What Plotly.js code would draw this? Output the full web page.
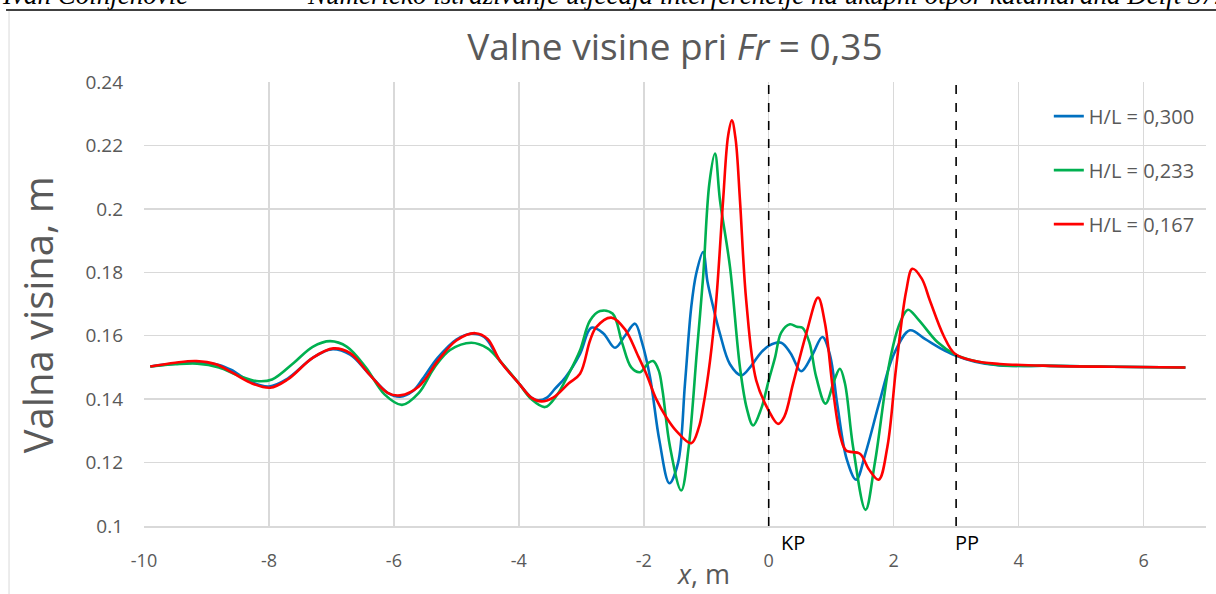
<!DOCTYPE html>
<html>
<head>
<meta charset="utf-8">
<script src="https://cdn.plot.ly/plotly-3.0.1.min.js"></script>
<style>html,body{margin:0;padding:0;background:#fff;}#chart{width:1216px;height:594px;}</style>
</head>
<body>
<div id="chart"></div>
<script>
// ---- data ----
const seriesNames = ['H/L = 0,300', 'H/L = 0,233', 'H/L = 0,167'];

const x300 = [-9.9,-9.5,-9.15,-8.8,-8.6,-8.3,-8.0,-7.7,-7.3,-7.0,-6.7,-6.4,-6.1,-5.9,-5.7,-5.54,-5.3,-5.0,-4.76,-4.55,-4.3,-4.0,-3.8,-3.69,-3.55,-3.42,-3.25,-3.02,-2.84,-2.65,-2.46,-2.3,-2.14,-2.03,-1.9,-1.75,-1.59,-1.45,-1.34,-1.24,-1.16,-1.05,-0.98,-0.9,-0.78,-0.62,-0.44,-0.28,-0.14,0.0,0.2,0.35,0.52,0.7,0.86,0.98,1.1,1.25,1.4,1.55,1.78,2.0,2.26,2.5,2.75,2.98,3.3,3.7,4.5,5.5,6.67];
const y300 = [0.1503,0.1512,0.1515,0.1508,0.1492,0.1455,0.1440,0.1465,0.1530,0.1557,0.1540,0.1480,0.1420,0.1408,0.1425,0.1464,0.1530,0.1588,0.1606,0.1595,0.1520,0.1450,0.1405,0.1396,0.1405,0.1433,0.1470,0.1543,0.1625,0.1608,0.1562,0.1600,0.1638,0.1580,0.1470,0.1270,0.1135,0.1200,0.1450,0.1690,0.1796,0.1864,0.1770,0.1700,0.1606,0.1510,0.1475,0.1505,0.1543,0.1568,0.1578,0.1545,0.1488,0.1540,0.1596,0.1540,0.1380,0.1210,0.1146,0.1230,0.1396,0.1540,0.1617,0.1590,0.1560,0.1538,0.1518,0.1506,0.1505,0.1502,0.1500];

const x233 = [-9.9,-9.5,-9.15,-8.8,-8.5,-8.2,-7.95,-7.6,-7.3,-7.02,-6.75,-6.45,-6.15,-5.87,-5.6,-5.35,-5.1,-4.76,-4.5,-4.3,-4.0,-3.8,-3.58,-3.4,-3.2,-3.02,-2.86,-2.7,-2.5,-2.35,-2.2,-2.06,-1.92,-1.85,-1.76,-1.7,-1.58,-1.4,-1.28,-1.15,-1.05,-0.95,-0.86,-0.78,-0.62,-0.46,-0.35,-0.25,-0.12,0.0,0.1,0.2,0.34,0.45,0.54,0.65,0.76,0.91,1.05,1.14,1.22,1.35,1.55,1.7,1.94,2.1,2.23,2.4,2.7,2.98,3.3,3.7,4.5,5.5,6.67];
const y233 = [0.1503,0.1510,0.1512,0.1500,0.1475,0.1457,0.1462,0.1515,0.1565,0.1583,0.1565,0.1500,0.1415,0.1382,0.1420,0.1500,0.1555,0.1578,0.1560,0.1520,0.1450,0.1400,0.1375,0.1410,0.1480,0.1554,0.1648,0.1678,0.1670,0.1580,0.1500,0.1485,0.1515,0.1520,0.1490,0.1427,0.1250,0.1112,0.1250,0.1550,0.1785,0.2080,0.2174,0.2027,0.1817,0.1500,0.1370,0.1317,0.1370,0.1459,0.1530,0.1610,0.1636,0.1628,0.1625,0.1580,0.1470,0.1386,0.1460,0.1496,0.1450,0.1250,0.1051,0.1200,0.1522,0.1640,0.1682,0.1650,0.1580,0.1541,0.1520,0.1507,0.1505,0.1502,0.1500];

const x167 = [-9.9,-9.5,-9.16,-8.85,-8.6,-8.3,-7.98,-7.7,-7.3,-6.97,-6.7,-6.4,-6.1,-5.9,-5.6,-5.3,-5.0,-4.7,-4.5,-4.3,-4.0,-3.8,-3.64,-3.45,-3.2,-3.02,-2.86,-2.76,-2.52,-2.3,-2.1,-1.96,-1.8,-1.64,-1.48,-1.24,-1.12,-1.05,-0.94,-0.84,-0.73,-0.65,-0.59,-0.53,-0.46,-0.36,-0.2,0.0,0.15,0.25,0.39,0.6,0.79,0.9,1.03,1.15,1.24,1.46,1.6,1.76,1.9,2.04,2.2,2.3,2.45,2.58,2.8,2.98,3.3,3.7,4.5,5.5,6.67];
const y167 = [0.1503,0.1515,0.1520,0.1510,0.1485,0.1452,0.1436,0.1462,0.1530,0.1560,0.1545,0.1480,0.1420,0.1412,0.1440,0.1520,0.1585,0.1608,0.1590,0.1520,0.1450,0.1405,0.1393,0.1405,0.1450,0.1480,0.1585,0.1627,0.1657,0.1620,0.1540,0.1480,0.1400,0.1343,0.1300,0.1261,0.1310,0.1375,0.1520,0.1711,0.2027,0.2230,0.2279,0.2220,0.2027,0.1711,0.1459,0.1364,0.1322,0.1345,0.1449,0.1606,0.1720,0.1640,0.1427,0.1280,0.1238,0.1228,0.1180,0.1146,0.1250,0.1500,0.1740,0.1811,0.1780,0.1711,0.1600,0.1543,0.1520,0.1511,0.1505,0.1502,0.1500];

const xTickVals = [-10,-8,-6,-4,-2,0,2,4,6];
const xTickText = ['-10','-8','-6','-4','-2','0','2','4','6'];
const yTickVals = [0.1,0.12,0.14,0.16,0.18,0.2,0.22,0.24];
const yTickText = ['0.1','0.12','0.14','0.16','0.18','0.2','0.22','0.24'];

const markerX = [0, 3];
const markerLabels = ['KP', 'PP'];

// ---- styles ----
const colors = ['#0070C0', '#00B050', '#FF0000'];
const markerShift = [10, -3];
const gray = '#595959';
const font = 'Open Sans, Noto Sans, sans-serif';

const xs = [x300, x233, x167];
const ys = [y300, y233, y167];
const traces = xs.map((x, i) => ({
  x: x, y: ys[i], type: 'scatter', mode: 'lines', name: seriesNames[i],
  legendgroup: 'g' + i,
  line: {color: colors[i], width: 2.6, shape: 'spline', smoothing: 1}
}));

const shapes = markerX.map(v => ({
  type: 'line', xref: 'x', yref: 'paper', x0: v, x1: v, y0: 0, y1: 1,
  line: {color: '#000', width: 1.6, dash: 'dash'}
}));
// page header rule and chart border
shapes.push({type: 'line', xref: 'paper', yref: 'paper', x0: -0.1299, x1: 1.02, y0: 1.1622, y1: 1.1622, line: {color: '#000', width: 1.5}});
shapes.push({type: 'line', xref: 'paper', yref: 'paper', x0: -0.1271, x1: -0.1271, y0: 1.16, y1: -0.16, line: {color: '#d9d9d9', width: 1}});

const annotations = markerX.map((v, i) => ({
  x: v, xref: 'x', y: 0, yref: 'paper', text: markerLabels[i], showarrow: false,
  xanchor: 'left', yanchor: 'top', xshift: markerShift[i], yshift: -1,
  font: {family: font, size: 20, color: '#000'}
}));
annotations.push({
  x: 0.527, xref: 'paper', y: -0.108, yref: 'paper', text: '<i>x</i>, m', showarrow: false,
  xanchor: 'center', yanchor: 'middle', font: {family: font, size: 27, color: gray}
});
annotations.push({
  x: -0.1006, xref: 'paper', y: 0.475, yref: 'paper', text: 'Valna visina, m', showarrow: false,
  textangle: -90, xanchor: 'center', yanchor: 'middle', font: {family: font, size: 40, color: gray}
});
annotations.push({
  x: -0.136, xref: 'paper', y: 1.1577, yref: 'paper', text: '<i>Ivan Čolnjenović</i>', showarrow: false,
  xanchor: 'left', yanchor: 'bottom', font: {family: 'Liberation Serif, serif', size: 27, color: '#000'}
});
annotations.push({
  x: 0.152, xref: 'paper', y: 1.1577, yref: 'paper', text: '<i>Numeričko istraživanje utjecaja interferencije na ukupni otpor katamarana Delft 372</i>', showarrow: false,
  xanchor: 'left', yanchor: 'bottom', font: {family: 'Liberation Serif, serif', size: 27, color: '#000'}
});

const layout = {
  width: 1216, height: 594,
  margin: {l: 144, r: 10, t: 82, b: 68},
  paper_bgcolor: '#fff', plot_bgcolor: '#fff',
  showlegend: true,
  title: {text: 'Valne visine pri <i>Fr</i> = 0,35', x: 0.555, xanchor: 'center', y: 0.92, yanchor: 'middle',
          font: {family: font, size: 37, color: gray}},
  xaxis: {
    range: [-10, 7], tickvals: xTickVals, ticktext: xTickText,
    showgrid: true, gridcolor: '#d9d9d9', gridwidth: 1.5,
    zeroline: false, showline: true, linecolor: '#d9d9d9', linewidth: 1.5,
    ticks: '', ticklabelstandoff: 18,
    tickfont: {family: font, size: 18, color: gray}
  },
  yaxis: {
    range: [0.1, 0.24], tickvals: yTickVals, ticktext: yTickText,
    showgrid: true, gridcolor: '#d9d9d9', gridwidth: 1.5,
    zeroline: false, showline: false,
    ticks: '', ticklabelstandoff: 20,
    tickfont: {family: font, size: 19, color: gray}
  },
  legend: {
    x: 0.852, xanchor: 'left', y: 0.967, yanchor: 'top',
    bgcolor: 'rgba(0,0,0,0)', borderwidth: 0,
    traceorder: 'grouped', tracegroupgap: 25,
    font: {family: font, size: 20, color: gray}
  },
  shapes: shapes,
  annotations: annotations
};

Plotly.newPlot('chart', traces, layout, {displayModeBar: false, staticPlot: true});
</script>
</body>
</html>
